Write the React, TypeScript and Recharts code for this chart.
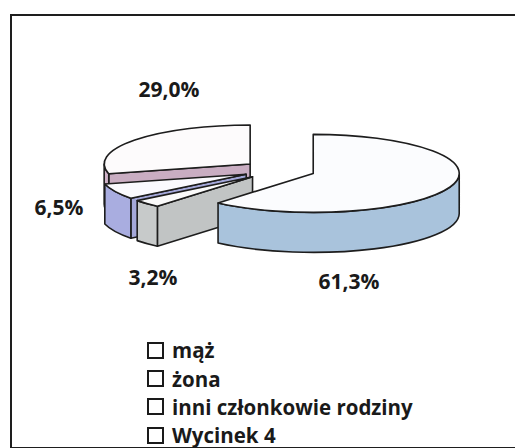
import { PieChart, Pie, Cell, Legend } from "recharts";

// slices as listed in the legend (clockwise from 12 o'clock)
const categories = ["mąż", "żona", "inni członkowie rodziny", "Wycinek 4"];
const shares = [61.3, 3.2, 6.5, 29.0];
const sideColors = ["#a9c3dc", "#c7caca", "#a9ade0", "#cfb2c8"];
const topColors = ["#fbfcfe", "#fafafa", "#fafafe", "#fdfbfc"];

// painted back to front, which is the legend order reversed (pie runs counter-clockwise)
const drawOrder = [3, 2, 1, 0];
const chartData = drawOrder.map((i) => ({ name: categories[i], value: shares[i] }));

// where the percentage labels sit (Excel "best fit")
const labelPos: Record<string, [number, number]> = {
  "mąż": [349, 281],
  "żona": [153, 277],
  "inni członkowie rodziny": [59, 207],
  "Wycinek 4": [169, 89],
};

const RY = 39;
const DEPTH = 40;
const EXPLODE = 0.25;
const STROKE = "#1d1d1d";
const FONT = "'Open Sans', sans-serif";

const rad = (d: number) => (d * Math.PI) / 180;

function shade(hex: string, k: number) {
  const n = parseInt(hex.slice(1), 16);
  const c = [(n >> 16) & 255, (n >> 8) & 255, n & 255].map((v) => Math.round(v * k));
  return `rgb(${c[0]},${c[1]},${c[2]})`;
}

// fake 3D sector: projected ellipse top + visible side walls
function Slice3D(props: any) {
  const { cx, cy, outerRadius: rx, startAngle, endAngle, fill, name } = props;
  const span = endAngle - startAngle;
  const t1 = (((90 - endAngle) % 360) + 360) % 360; // clockwise-from-top angles
  const t2 = t1 + span;
  const tm = t1 + span / 2;
  const ox = cx + Math.sin(rad(tm)) * EXPLODE * rx;
  const oy = cy - Math.cos(rad(tm)) * EXPLODE * RY;
  const pt = (t: number, d = 0) => [ox + rx * Math.sin(rad(t)), oy - RY * Math.cos(rad(t)) + d];
  const f = (p: number[]) => `${p[0].toFixed(2)},${p[1].toFixed(2)}`;

  const faces: JSX.Element[] = [];
  const wall = (t: number, key: string) => {
    const a = pt(t);
    const b = pt(t, DEPTH);
    faces.push(
      <path
        key={key}
        d={`M${ox},${oy} L${f(a)} L${f(b)} L${ox},${oy + DEPTH} Z`}
        fill={shade(fill, 0.97)}
        stroke={STROKE}
        strokeWidth={1.6}
        strokeLinejoin="round"
      />
    );
  };
  if (Math.sin(rad(t1)) < -0.01) wall(t1, "w1");
  if (Math.sin(rad(t2)) > 0.01) wall(t2, "w2");

  // outer curved side, front half only
  [[90, 270], [450, 630]].forEach(([lo, hi], i) => {
    const a = Math.max(t1, lo);
    const b = Math.min(t2, hi);
    if (b - a <= 0.01) return;
    faces.push(
      <path
        key={"s" + i}
        d={`M${f(pt(a))} A${rx},${RY} 0 0 1 ${f(pt(b))} L${f(pt(b, DEPTH))} A${rx},${RY} 0 0 0 ${f(pt(a, DEPTH))} Z`}
        fill={fill}
        stroke={STROKE}
        strokeWidth={1.6}
        strokeLinejoin="round"
      />
    );
  });

  const top = topColors[categories.indexOf(name)] ?? "#fff";
  faces.push(
    <path
      key="top"
      d={`M${ox},${oy} L${f(pt(t1))} A${rx},${RY} 0 ${span > 180 ? 1 : 0} 1 ${f(pt(t2))} Z`}
      fill={top}
      stroke={STROKE}
      strokeWidth={1.6}
      strokeLinejoin="round"
    />
  );
  return <g>{faces}</g>;
}

function renderLabel(props: any) {
  const pos = labelPos[props.name];
  if (!pos) return null;
  return (
    <text
      x={pos[0]}
      y={pos[1]}
      textAnchor="middle"
      dominantBaseline="central"
      fill="#1a1a1a"
      fontFamily={FONT}
      fontWeight={700}
      fontSize={21}
    >
      {props.value.toFixed(1).replace(".", ",")}%
    </text>
  );
}

function LegendBox() {
  return (
    <div style={{ fontFamily: FONT, fontWeight: 700, fontSize: 20.5, color: "#1a1a1a" }}>
      {categories.map((c) => (
        <div key={c} style={{ display: "flex", alignItems: "center", height: 28.4 }}>
          <span
            style={{
              width: 13,
              height: 13,
              border: "2px solid #1a1a1a",
              background: "#fff",
              marginRight: 8,
              flexShrink: 0,
            }}
          />
          <span style={{ whiteSpace: "nowrap", lineHeight: "26px" }}>{c}</span>
        </div>
      ))}
    </div>
  );
}

export default function App() {
  return (
    <div
      style={{
        position: "absolute",
        left: 0,
        top: 0,
        width: 515,
        height: 448,
        overflow: "hidden",
        background: "#fff",
      }}
    >
      {/* frame: left, top and bottom edges only, right edge is outside the scan */}
      <div
        style={{
          position: "absolute",
          left: 10,
          top: 14,
          width: 520,
          height: 431,
          borderLeft: "2px solid #1e1e1e",
          borderTop: "2px solid #1e1e1e",
          borderBottom: "2px solid #1e1e1e",
        }}
      />
      <div style={{ position: "absolute", left: 0, top: 0 }}>
        <PieChart width={515} height={448}>
          <Pie
            data={chartData}
            dataKey="value"
            nameKey="name"
            cx={274}
            cy={165}
            outerRadius={146}
            startAngle={90}
            endAngle={450}
            stroke="none"
            shape={Slice3D}
            inactiveShape={Slice3D}
            activeShape={Slice3D}
            label={renderLabel}
            labelLine={false}
            isAnimationActive={false}
          >
            {chartData.map((d) => (
              <Cell key={d.name} fill={sideColors[categories.indexOf(d.name)]} />
            ))}
          </Pie>
          <Legend
            content={() => <LegendBox />}
            wrapperStyle={{ position: "absolute", left: 147, top: 336, width: 320 }}
          />
        </PieChart>
      </div>
    </div>
  );
}
